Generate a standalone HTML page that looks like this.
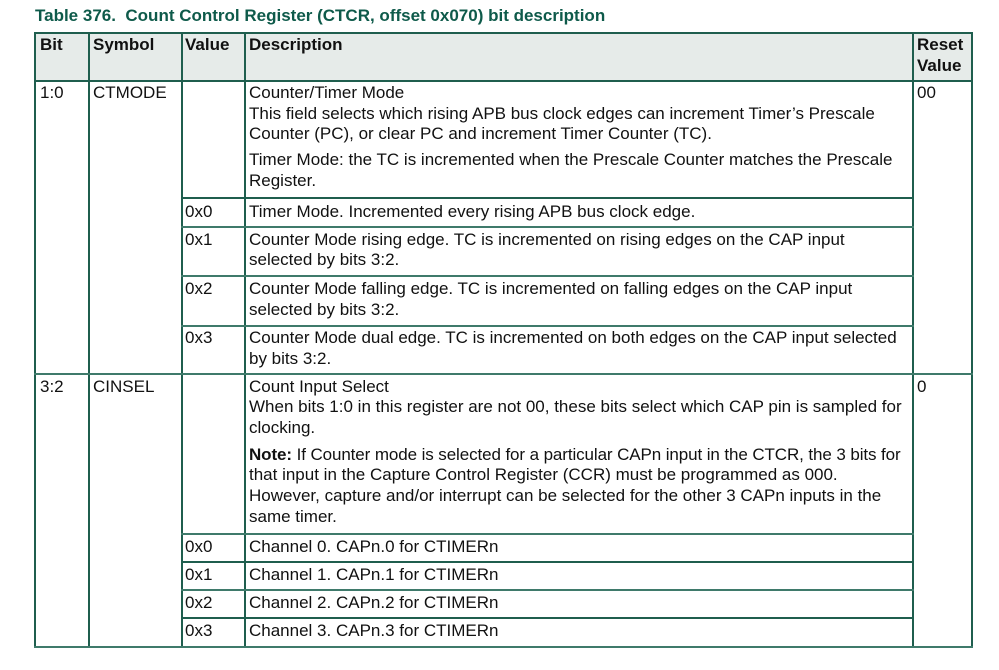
<!DOCTYPE html>
<html>
<head>
<meta charset="utf-8">
<style>
  html,body{margin:0;padding:0;background:#fff;}
  body{width:999px;height:670px;position:relative;overflow:hidden;}
  .t{position:absolute;white-space:nowrap;font-family:"Liberation Sans",Arial,sans-serif;font-size:17px;line-height:20px;color:#111;}
  .b{font-weight:bold;}
  .title{color:#0e5a4a;font-weight:bold;}
  .h{position:absolute;height:2px;background:#1f5e4e;}
  .v{position:absolute;width:2px;background:#1f5e4e;}
  .hl{position:absolute;height:2px;background:#3f7a6b;}
  .hdr{position:absolute;left:35px;top:33px;width:937px;height:48px;background:#e6ebe9;}
</style>
</head>
<body>
<div class="t title" style="left:35px;top:6px;">Table 376.&nbsp; Count Control Register (CTCR, offset 0x070) bit description</div>

<div class="hdr"></div>

<!-- vertical lines -->
<div class="v" style="left:34px;top:32px;height:616px;"></div>
<div class="v" style="left:88px;top:32px;height:616px;"></div>
<div class="v" style="left:181px;top:32px;height:616px;"></div>
<div class="v" style="left:244px;top:32px;height:616px;"></div>
<div class="v" style="left:912px;top:32px;height:616px;"></div>
<div class="v" style="left:971px;top:32px;height:616px;"></div>

<!-- horizontal lines -->
<div class="h" style="left:34px;top:32px;width:939px;"></div>
<div class="h" style="left:34px;top:80px;width:939px;"></div>
<div class="h" style="left:181px;top:197px;width:733px;"></div>
<div class="hl" style="left:181px;top:226px;width:733px;"></div>
<div class="hl" style="left:181px;top:275px;width:733px;"></div>
<div class="hl" style="left:181px;top:325px;width:733px;"></div>
<div class="hl" style="left:34px;top:373px;width:939px;"></div>
<div class="hl" style="left:181px;top:533px;width:733px;"></div>
<div class="h" style="left:181px;top:561px;width:733px;"></div>
<div class="hl" style="left:181px;top:589px;width:733px;"></div>
<div class="h" style="left:181px;top:617px;width:733px;"></div>
<div class="hl" style="left:34px;top:646px;width:939px;"></div>

<!-- header -->
<div class="t b" style="left:40px;top:35px;">Bit</div>
<div class="t b" style="left:93px;top:35px;">Symbol</div>
<div class="t b" style="left:185px;top:35px;">Value</div>
<div class="t b" style="left:249px;top:35px;">Description</div>
<div class="t b" style="left:917px;top:35px;">Reset</div>
<div class="t b" style="left:917px;top:56px;">Value</div>

<!-- row 1 -->
<div class="t" style="left:40px;top:83px;">1:0</div>
<div class="t" style="left:93px;top:83px;">CTMODE</div>
<div class="t" style="left:917px;top:83px;">00</div>
<div class="t" style="left:249px;top:83px;">Counter/Timer Mode</div>
<div class="t" style="left:249px;top:104px;">This field selects which rising APB bus clock edges can increment Timer’s Prescale</div>
<div class="t" style="left:249px;top:124px;">Counter (PC), or clear PC and increment Timer Counter (TC).</div>
<div class="t" style="left:249px;top:150px;">Timer Mode: the TC is incremented when the Prescale Counter matches the Prescale</div>
<div class="t" style="left:249px;top:171px;">Register.</div>

<div class="t" style="left:185px;top:202px;">0x0</div>
<div class="t" style="left:249px;top:202px;">Timer Mode. Incremented every rising APB bus clock edge.</div>

<div class="t" style="left:185px;top:230px;">0x1</div>
<div class="t" style="left:249px;top:230px;">Counter Mode rising edge. TC is incremented on rising edges on the CAP input</div>
<div class="t" style="left:249px;top:250px;">selected by bits 3:2.</div>

<div class="t" style="left:185px;top:279px;">0x2</div>
<div class="t" style="left:249px;top:279px;">Counter Mode falling edge. TC is incremented on falling edges on the CAP input</div>
<div class="t" style="left:249px;top:300px;">selected by bits 3:2.</div>

<div class="t" style="left:185px;top:328px;">0x3</div>
<div class="t" style="left:249px;top:328px;">Counter Mode dual edge. TC is incremented on both edges on the CAP input selected</div>
<div class="t" style="left:249px;top:349px;">by bits 3:2.</div>

<!-- row 2 -->
<div class="t" style="left:40px;top:377px;">3:2</div>
<div class="t" style="left:93px;top:377px;">CINSEL</div>
<div class="t" style="left:917px;top:377px;">0</div>
<div class="t" style="left:249px;top:377px;">Count Input Select</div>
<div class="t" style="left:249px;top:397px;">When bits 1:0 in this register are not 00, these bits select which CAP pin is sampled for</div>
<div class="t" style="left:249px;top:418px;">clocking.</div>
<div class="t" style="left:249px;top:445px;letter-spacing:-0.1px;"><b>Note:</b> If Counter mode is selected for a particular CAPn input in the CTCR, the 3 bits for</div>
<div class="t" style="left:249px;top:465px;">that input in the Capture Control Register (CCR) must be programmed as 000.</div>
<div class="t" style="left:249px;top:486px;">However, capture and/or interrupt can be selected for the other 3 CAPn inputs in the</div>
<div class="t" style="left:249px;top:507px;">same timer.</div>

<div class="t" style="left:185px;top:537px;">0x0</div>
<div class="t" style="left:249px;top:537px;">Channel 0. CAPn.0 for CTIMERn</div>
<div class="t" style="left:185px;top:565px;">0x1</div>
<div class="t" style="left:249px;top:565px;">Channel 1. CAPn.1 for CTIMERn</div>
<div class="t" style="left:185px;top:593px;">0x2</div>
<div class="t" style="left:249px;top:593px;">Channel 2. CAPn.2 for CTIMERn</div>
<div class="t" style="left:185px;top:621px;">0x3</div>
<div class="t" style="left:249px;top:621px;">Channel 3. CAPn.3 for CTIMERn</div>
</body>
</html>
